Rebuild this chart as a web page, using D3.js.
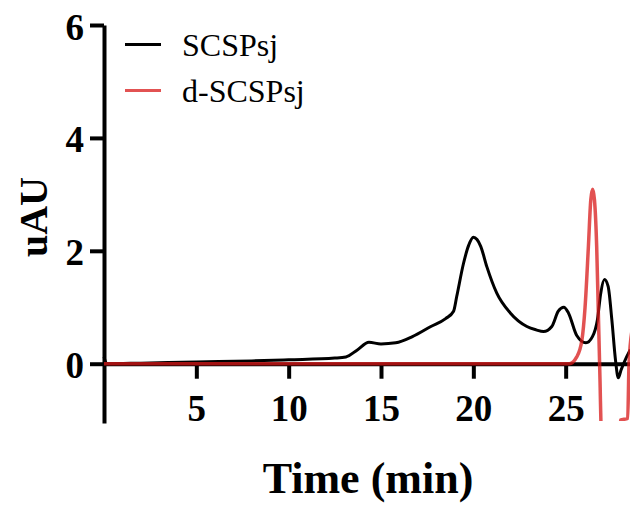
<!DOCTYPE html>
<html>
<head>
<meta charset="utf-8">
<script src="https://cdn.jsdelivr.net/npm/d3@7"></script>
<style>
  body { margin: 0; background: #fff; }
  svg { display: block; }
  text { font-family: "Liberation Serif", "Times New Roman", serif; fill: #000; }
  .axis text { font-size: 37px; font-weight: bold; font-family: "Liberation Serif", "Times New Roman", serif; }
  .axis path, .axis line { stroke: #000; stroke-width: 4; }
</style>
</head>
<body>
<svg id="svg1" width="630" height="505"></svg>
<script>
// SCSPsj trace
var timeA = [0, 0.15, 2, 5, 8, 10, 12.5, 13.1, 13.7, 14.35, 15.0, 15.8, 16.7, 17.7, 18.5, 18.93, 19.1, 19.47, 19.75, 20.0, 20.2, 20.4, 20.73, 21.27, 22.0, 22.9, 23.4, 23.8, 24.25, 24.6, 24.9, 25.15, 25.6, 26.1, 26.45, 26.72, 26.9, 27.1, 27.3, 27.5, 27.7, 27.85, 28.0, 28.3, 28.5];
var valA  = [0.12, 0.0, 0.01, 0.03, 0.05, 0.07, 0.1, 0.12, 0.24, 0.38, 0.35, 0.37, 0.48, 0.66, 0.8, 0.93, 1.19, 1.78, 2.1, 2.24, 2.2, 2.08, 1.72, 1.25, 0.9, 0.66, 0.6, 0.57, 0.66, 0.93, 1.0, 0.9, 0.5, 0.37, 0.48, 0.78, 1.25, 1.49, 1.37, 0.78, 0.06, -0.25, -0.11, 0.12, 0.25];

// d-SCSPsj trace
var timeB = [0, 25.2, 25.6, 25.88, 26.05, 26.23, 26.36, 26.46, 26.56, 26.68, 26.77, 26.86, 26.92, 27.0, 27.9, 27.96, 28.36, 28.43, 28.6];
var valB  = [0, 0, 0.12, 0.42, 1.0, 2.07, 2.9, 3.09, 2.9, 2.07, 0.89, -0.29, -1.2, -1.6, -1.6, -1.0, -0.97, 0.0, 0.6];

var xTicks = [5, 10, 15, 20, 25];
var yTicks = [0, 2, 4, 6];
var seriesNames = ["SCSPsj", "d-SCSPsj"];
var seriesColors = ["#000000", "#d81818"];
var seriesOpacity = [1, 0.75];

var svg = d3.select("#svg1");

var x = d3.scaleLinear().domain([0, 30]).range([104, 658]);
var y = d3.scaleLinear().domain([-1.05, 6]).range([423, 25]);

function pts(t, v) {
  return t.map(function(d, i) { return [d, v[i]]; });
}

var line = d3.line()
  .x(function(d) { return x(d[0]); })
  .y(function(d) { return y(d[1]); })
  .curve(d3.curveMonotoneX);

svg.append("clipPath").attr("id", "plotclip")
  .append("rect")
    .attr("x", 100).attr("y", 0)
    .attr("width", 530).attr("height", 421);

// axes
var xAxis = svg.append("g")
  .attr("class", "axis")
  .attr("transform", "translate(0," + y(0) + ")")
  .call(d3.axisBottom(x).tickValues(xTicks).tickSize(15).tickSizeOuter(0));
xAxis.selectAll("text").attr("y", 57).attr("dy", 0);

var yAxis = svg.append("g")
  .attr("class", "axis")
  .attr("transform", "translate(" + x(0) + ",0)")
  .call(d3.axisLeft(y).tickValues(yTicks).tickFormat(d3.format("d"))
          .tickSize(14).tickSizeOuter(0).tickPadding(6));
yAxis.selectAll("text").attr("dy", "0.38em");

// traces
var plot = svg.append("g").attr("clip-path", "url(#plotclip)");

plot.append("path")
  .datum(pts(timeA, valA))
  .attr("d", line)
  .attr("fill", "none")
  .attr("stroke", seriesColors[0])
  .attr("stroke-width", 3);

plot.append("path")
  .datum(pts(timeB, valB))
  .attr("d", line)
  .attr("fill", "none")
  .attr("stroke", seriesColors[1])
  .attr("stroke-opacity", seriesOpacity[1])
  .attr("stroke-width", 3.5);

// legend
var legend = svg.selectAll(".legend")
  .data(seriesNames)
  .enter()
  .append("g")
    .attr("class", "legend")
    .attr("transform", function(d, i) { return "translate(125," + (44.5 + i * 46) + ")"; });

legend.append("line")
  .attr("x1", 0).attr("x2", 36)
  .attr("stroke", function(d, i) { return seriesColors[i]; })
  .attr("stroke-opacity", function(d, i) { return seriesOpacity[i]; })
  .attr("stroke-width", 3);

legend.append("text")
  .attr("x", 57)
  .attr("dy", "0.35em")
  .style("font-family", "'Liberation Serif', 'Times New Roman', serif")
  .style("font-size", "32px")
  .text(function(d) { return d; });

// axis titles
svg.append("text")
  .attr("transform", "translate(47,217) rotate(-90)")
  .attr("text-anchor", "middle")
  .style("font-size", "40px")
  .style("font-weight", "bold")
  .text("uAU");

svg.append("text")
  .attr("x", 368)
  .attr("y", 493)
  .attr("text-anchor", "middle")
  .style("font-size", "44px")
  .style("font-weight", "bold")
  .text("Time (min)");
</script>
</body>
</html>
